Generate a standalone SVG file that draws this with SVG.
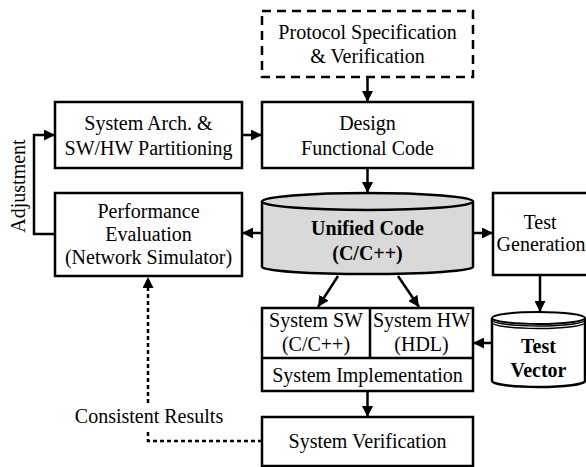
<svg xmlns="http://www.w3.org/2000/svg" width="586" height="467" viewBox="0 0 586 467">
<style>
.box{fill:#fff;stroke:#000;stroke-width:2.5}
.t{font-family:"Liberation Serif","Times New Roman",serif;font-size:20px;fill:#000;text-anchor:middle}
.b{font-weight:bold}
.ln{fill:none;stroke:#000;stroke-width:2.5}
.dl{fill:none;stroke:#000;stroke-width:2.5;stroke-dasharray:4 3}
</style>
<defs>
<marker id="ah" viewBox="0 0 10 10" refX="10" refY="5" markerWidth="11" markerHeight="11" orient="auto" markerUnits="userSpaceOnUse">
<path d="M0,0 L10,5 L0,10 z" fill="#000"/>
</marker>
</defs>
<rect width="586" height="467" fill="#fff"/>

<g id="protocol">
<rect x="262" y="11" width="211" height="66" fill="#fff" stroke="#000" stroke-width="2.5" stroke-dasharray="9 6"/>
<text class="t" x="367.5" y="39">Protocol Specification</text>
<text class="t" x="367.5" y="63">&amp; Verification</text>
</g>

<g id="sysarch">
<rect class="box" x="55" y="102" width="187" height="66"/>
<text class="t" x="148.5" y="130">System Arch. &amp;</text>
<text class="t" x="148.5" y="155">SW/HW Partitioning</text>
</g>

<g id="design">
<rect class="box" x="262" y="102" width="211" height="66"/>
<text class="t" x="367.5" y="130">Design</text>
<text class="t" x="367.5" y="155">Functional Code</text>
</g>

<g id="perf">
<rect class="box" x="55" y="193" width="187" height="83"/>
<text class="t" x="148.5" y="218">Performance</text>
<text class="t" x="148.5" y="241">Evaluation</text>
<text class="t" x="148.5" y="264">(Network Simulator)</text>
</g>

<g id="unified">
<path d="M262,201.5 V267 A105.5,7 0 0 0 473,267 V201.5" fill="#d9d9d9" stroke="#000" stroke-width="2.5"/>
<ellipse cx="367.5" cy="201.5" rx="105.5" ry="8.5" fill="#d9d9d9" stroke="#000" stroke-width="2.5"/>
<text class="t b" x="367.5" y="235">Unified Code</text>
<text class="t b" x="367.5" y="260">(C/C++)</text>
</g>

<g id="testgen">
<rect class="box" x="493" y="193" width="100" height="82"/>
<text class="t" x="540" y="229">Test</text>
<text class="t" x="541" y="251">Generation</text>
</g>

<g id="testvector">
<path d="M492,318 V381 A46.5,6 0 0 0 585,381 V318" fill="#fff" stroke="#000" stroke-width="2.5"/>
<ellipse cx="538.5" cy="318" rx="46.5" ry="6" fill="#fff" stroke="#000" stroke-width="2"/>
<path d="M492,320 A46.5,6 0 0 0 585,320" fill="none" stroke="#000" stroke-width="1.5"/>
<path d="M492,322.5 A46.5,6 0 0 0 585,322.5" fill="none" stroke="#000" stroke-width="1.5"/>
<text class="t b" x="538.5" y="353">Test</text>
<text class="t b" x="538.5" y="377">Vector</text>
</g>

<g id="sysimpl">
<rect class="box" x="262" y="308" width="211" height="83"/>
<line class="ln" x1="262" y1="358" x2="473" y2="358"/>
<line class="ln" x1="370" y1="308" x2="370" y2="358"/>
<text class="t" x="316" y="327">System SW</text>
<text class="t" x="316" y="351">(C/C++)</text>
<text class="t" x="421.5" y="327">System HW</text>
<text class="t" x="421.5" y="351">(HDL)</text>
<text class="t" x="367.5" y="382">System Implementation</text>
</g>

<g id="sysverif">
<rect class="box" x="262" y="417" width="211" height="49"/>
<text class="t" x="367.5" y="448">System Verification</text>
</g>

<g id="labels">
<text class="t" transform="translate(25,186) rotate(-90)">Adjustment</text>
<text class="t" x="149" y="423">Consistent Results</text>
</g>

<g id="connectors">
<line class="ln" x1="367.5" y1="77" x2="367.5" y2="102" marker-end="url(#ah)"/>
<line class="ln" x1="242" y1="135" x2="262" y2="135" marker-end="url(#ah)"/>
<line class="ln" x1="367.5" y1="168" x2="367.5" y2="193" marker-end="url(#ah)"/>
<line class="ln" x1="262" y1="233" x2="242" y2="233" marker-end="url(#ah)"/>
<line class="ln" x1="473" y1="233" x2="493" y2="233" marker-end="url(#ah)"/>
<polyline class="ln" points="55,234 34,234 34,135 55,135" marker-end="url(#ah)"/>
<line class="ln" x1="338" y1="276" x2="318" y2="307" marker-end="url(#ah)"/>
<line class="ln" x1="398" y1="276" x2="419" y2="307" marker-end="url(#ah)"/>
<line class="ln" x1="540" y1="275" x2="540" y2="312" marker-end="url(#ah)"/>
<line class="ln" x1="492" y1="343" x2="473" y2="343" marker-end="url(#ah)"/>
<line class="ln" x1="367.5" y1="391" x2="367.5" y2="417" marker-end="url(#ah)"/>
<polyline class="dl" points="262,441 148,441 148,430"/>
<line class="dl" x1="148" y1="403" x2="148" y2="277" marker-end="url(#ah)"/>
</g>
</svg>
